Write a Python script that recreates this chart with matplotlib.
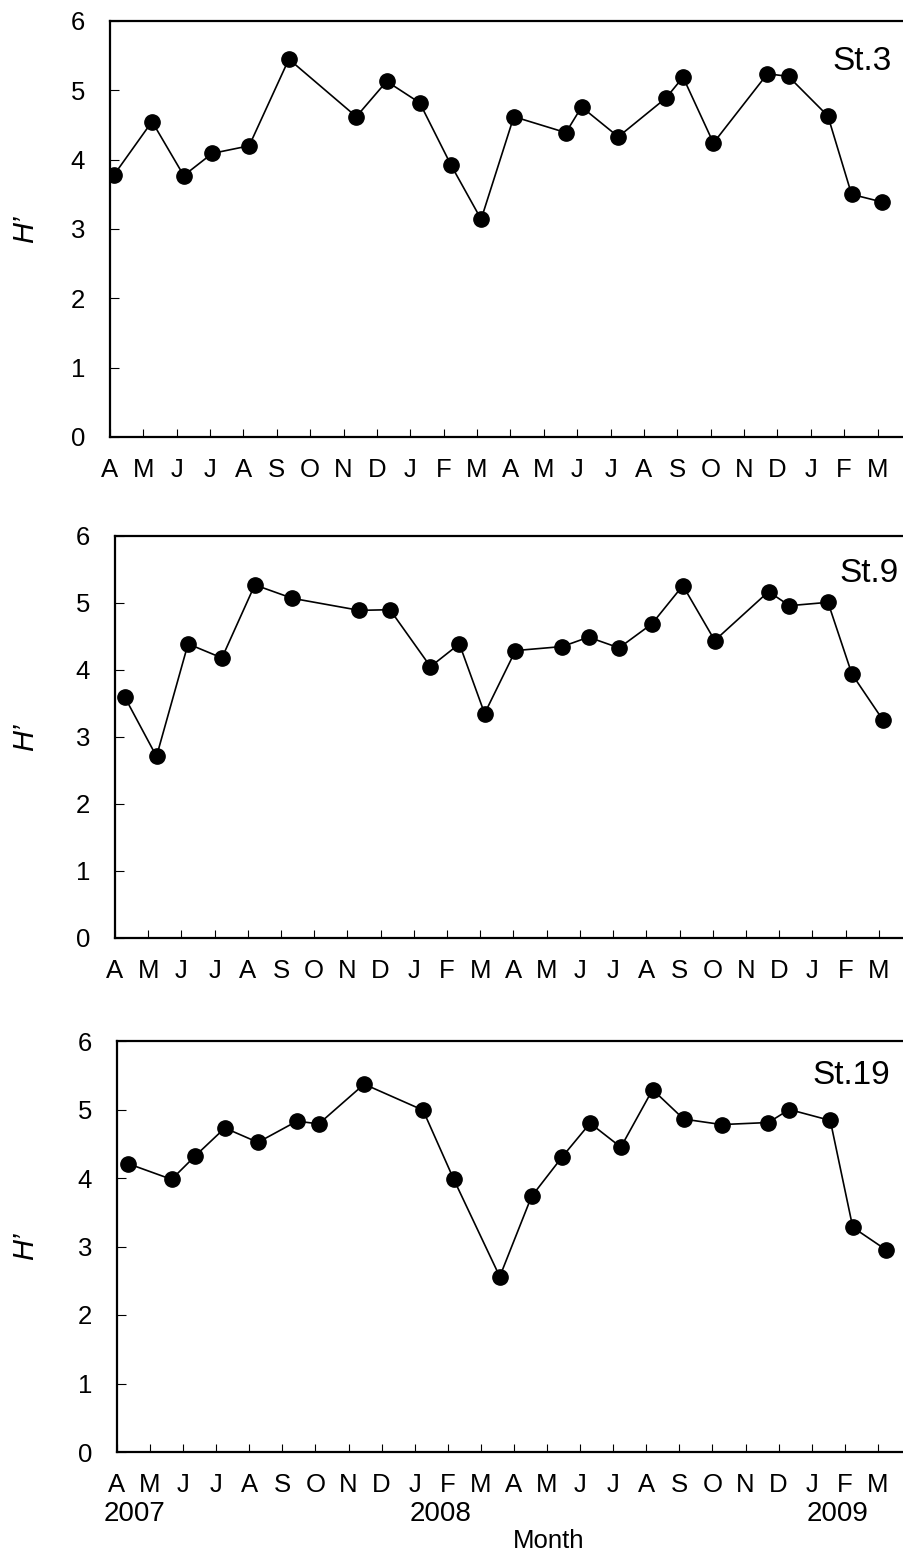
import matplotlib
matplotlib.use('Agg')
import matplotlib.pyplot as plt

plt.rcParams['font.family'] = ['Liberation Sans', 'DejaVu Sans']

# month letters, April 2007 .. March 2009
months = ['A', 'M', 'J', 'J', 'A', 'S', 'O', 'N', 'D', 'J', 'F', 'M',
          'A', 'M', 'J', 'J', 'A', 'S', 'O', 'N', 'D', 'J', 'F', 'M']
years = ['2007', '2008', '2009']
year_pos = [-0.4, 8.85, 20.85]

# sampling times in months since 1 April 2007, and H' values
st3_t = [0.12, 1.26, 2.21, 3.06, 4.17, 5.36, 7.38, 8.29, 9.28, 10.22, 11.12, 12.10,
         13.66, 14.13, 15.23, 16.66, 17.17, 18.08, 19.70, 20.33, 21.51, 22.22, 23.13]
st3_h = [3.78, 4.55, 3.77, 4.09, 4.20, 5.45, 4.62, 5.13, 4.82, 3.92, 3.14, 4.62,
         4.39, 4.76, 4.33, 4.89, 5.19, 4.24, 5.24, 5.20, 4.63, 3.50, 3.39]

st9_t = [0.30, 1.25, 2.20, 3.22, 4.21, 5.34, 7.36, 8.28, 9.50, 10.37, 11.13, 12.06,
         13.47, 14.26, 15.18, 16.17, 17.10, 18.06, 19.68, 20.31, 21.47, 22.19, 23.13]
st9_h = [3.59, 2.71, 4.39, 4.18, 5.27, 5.07, 4.89, 4.90, 4.05, 4.39, 3.35, 4.29,
         4.35, 4.49, 4.33, 4.69, 5.26, 4.44, 5.17, 4.96, 5.01, 3.94, 3.25]

st19_t = [0.33, 1.65, 2.36, 3.26, 4.26, 5.44, 6.10, 7.47, 9.25, 10.18, 11.57, 12.53,
          13.46, 14.30, 15.23, 16.19, 17.13, 18.28, 19.69, 20.32, 21.56, 22.24, 23.25]
st19_h = [4.21, 3.98, 4.32, 4.73, 4.52, 4.83, 4.79, 5.37, 4.99, 3.98, 2.56, 3.73,
          4.31, 4.80, 4.45, 5.29, 4.86, 4.78, 4.81, 5.00, 4.84, 3.28, 2.95]

stations = ['St.3', 'St.9', 'St.19']
times = [st3_t, st9_t, st19_t]
values = [st3_h, st9_h, st19_h]

W, H = 904, 1555
fig = plt.figure(figsize=(W / 100, H / 100), dpi=100)

# panel boxes in pixels: left, top, bottom, right (right edge is cut off)
boxes = [(110, 21, 437, 911), (115, 536, 938, 912), (117, 1041, 1452, 911)]
# station label: right edge x, centre y (pixels)
label_px = [(892, 62), (899, 574), (890, 1076)]

for i, (l, t, b, r) in enumerate(boxes):
    ax = fig.add_axes([l / W, 1 - b / H, (r - l) / W, (b - t) / H])
    ax.plot(times[i], values[i], '-o', color='black', lw=1.2, ms=11)
    ax.set_xlim(0, 24)
    ax.set_ylim(0, 6)
    ax.set_xticks(range(24))
    ax.set_xticklabels(months)
    ax.set_yticks(range(7))
    ax.tick_params(axis='both', direction='in', width=0.8, labelsize=18.5)
    ax.tick_params(axis='y', pad=18, length=6.5)
    ax.tick_params(axis='x', pad=15, length=6)
    for s in ['left', 'top', 'bottom']:
        ax.spines[s].set_linewidth(1.6)
    ax.spines['right'].set_visible(False)
    ax.set_ylabel('H\u2019', fontsize=21, style='italic')
    ax.yaxis.set_label_coords(-(l - 39) / (r - l), 0.5)
    fig.text(label_px[i][0] / W, 1 - label_px[i][1] / H, stations[i],
             ha='right', va='center', fontsize=24)
    if i == 2:
        for yr, xp in zip(years, year_pos):
            ax.text(xp, -0.152, yr, transform=ax.get_xaxis_transform(),
                    ha='left', va='center', fontsize=20)

fig.text(549 / W, 1 - 1541 / H, 'Month', ha='center', va='center', fontsize=18.5)

fig.savefig('out.png', dpi=100)
